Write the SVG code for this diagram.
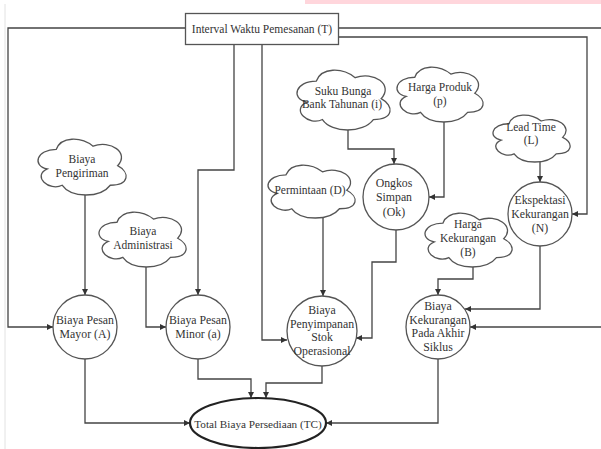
<svg xmlns="http://www.w3.org/2000/svg" xmlns:xlink="http://www.w3.org/1999/xlink" width="601" height="449" viewBox="0 0 601 449">
<style>
.t{font-family:"Liberation Serif","Times New Roman",serif;font-size:11.8px;fill:#333;text-anchor:middle;dominant-baseline:central}
.tb{font-size:11.5px}
.n{fill:#fff;stroke:#555;stroke-width:1.3}
.c{fill:none;stroke:#444;stroke-width:1.3}
.ca{fill:none;stroke:#444;stroke-width:1.3;marker-end:url(#ah)}
.cl{fill:#fff;stroke:#555;stroke-width:1.3;vector-effect:non-scaling-stroke}
</style>
<defs>
<marker id="ah" viewBox="0 0 10 10" refX="10" refY="5" markerWidth="6" markerHeight="6" markerUnits="userSpaceOnUse" orient="auto">
<path d="M0 0 L10 5 L0 10 Z" fill="#333"/>
</marker>
<symbol id="cloud" viewBox="0 0 100 100" preserveAspectRatio="none" overflow="visible">
<path class="cl" d="M 20.67 18.60 C -1.68 18.60 -7.26 47.67 10.61 53.49 C -7.26 66.28 12.85 94.19 27.37 82.56 C 37.43 105.81 70.95 105.81 82.12 82.56 C 104.47 82.56 104.47 59.30 90.50 47.67 C 104.47 24.42 82.12 1.16 62.57 12.79 C 48.60 -4.65 26.26 -4.65 20.67 18.60 Z"/>
</symbol>
</defs>
<rect width="601" height="449" fill="#fff"/>
<rect x="305" y="0" width="296" height="4" fill="#ffd6dc"/>
<line x1="5" y1="4" x2="5" y2="449" stroke="#e2e2e2" stroke-width="1"/>

<g id="connectors">
<path class="ca" d="M186 28 H8 V327 H53"/>
<path class="ca" d="M234 45 V170 H198 V295"/>
<path class="ca" d="M262 45 V340 H287"/>
<path class="c" d="M338 28 H601"/>
<path class="ca" d="M338 37 H587 V214 H572"/>
<path class="ca" d="M85 192 V295"/>
<path class="ca" d="M146 265 V327 H166"/>
<path class="ca" d="M323 216 V296"/>
<path class="ca" d="M348 127 V149 H394 V164"/>
<path class="ca" d="M444 120 V197 H429"/>
<path class="ca" d="M540 160 V182"/>
<path class="ca" d="M396 230 V262 H372 V338 H356"/>
<path class="ca" d="M473 265 V279 H438 V295"/>
<path class="ca" d="M540 246 V309 H465"/>
<path class="ca" d="M601 327 H470"/>
<path class="ca" d="M85 359 V423 H190"/>
<path class="ca" d="M198 359 V379 H251 V398"/>
<path class="ca" d="M322 366 V383 H266 V398"/>
<path class="ca" d="M438 359 V423 H326"/>
</g>

<g id="T">
<rect class="n" x="185.5" y="13.5" width="153" height="31"/>
<text class="t tb" x="262" y="29">Interval Waktu Pemesanan (T)</text>
</g>

<g id="pengiriman">
<use xlink:href="#cloud" href="#cloud" x="38" y="139" width="88" height="56"/>
<text class="t tb" x="82" y="159">Biaya</text>
<text class="t tb" x="82" y="173">Pengiriman</text>
</g>
<g id="administrasi">
<use xlink:href="#cloud" href="#cloud" x="99" y="212" width="87" height="55"/>
<text class="t tb" x="143" y="231">Biaya</text>
<text class="t tb" x="143" y="245">Administrasi</text>
</g>
<g id="permintaan">
<use xlink:href="#cloud" href="#cloud" x="268" y="165" width="87" height="53"/>
<text class="t tb" x="310" y="190">Permintaan (D)</text>
</g>
<g id="sukubunga">
<use xlink:href="#cloud" href="#cloud" x="297" y="70" width="93" height="60"/>
<text class="t tb" x="343" y="91">Suku Bunga</text>
<text class="t tb" x="342" y="104">Bank Tahunan (i)</text>
</g>
<g id="hargaproduk">
<use xlink:href="#cloud" href="#cloud" x="397" y="67" width="86" height="55"/>
<text class="t tb" x="440" y="87">Harga Produk</text>
<text class="t tb" x="440" y="101">(p)</text>
</g>
<g id="leadtime">
<use xlink:href="#cloud" href="#cloud" x="493" y="115" width="77" height="47"/>
<text class="t tb" x="531" y="127">Lead Time</text>
<text class="t tb" x="531" y="140">(L)</text>
</g>
<g id="hargakekurangan">
<use xlink:href="#cloud" href="#cloud" x="425" y="213" width="87" height="54"/>
<text class="t tb" x="468" y="224">Harga</text>
<text class="t tb" x="468" y="238">Kekurangan</text>
<text class="t tb" x="468" y="252">(B)</text>
</g>

<g id="ongkos">
<circle class="n" cx="396" cy="197" r="33"/>
<text class="t" x="394" y="183">Ongkos</text>
<text class="t" x="394" y="197">Simpan</text>
<text class="t" x="394" y="212">(Ok)</text>
</g>
<g id="ekspektasi">
<circle class="n" cx="540" cy="214" r="32"/>
<text class="t" x="540" y="200">Ekspektasi</text>
<text class="t" x="540" y="214">Kekurangan</text>
<text class="t" x="540" y="228">(N)</text>
</g>
<g id="mayor">
<circle class="n" cx="85" cy="327" r="32"/>
<text class="t" x="85" y="320">Biaya Pesan</text>
<text class="t" x="85" y="334">Mayor (A)</text>
</g>
<g id="minor">
<circle class="n" cx="198" cy="327" r="32"/>
<text class="t" x="198" y="320">Biaya Pesan</text>
<text class="t" x="198" y="334">Minor (a)</text>
</g>
<g id="penyimpanan">
<circle class="n" cx="322" cy="331" r="35"/>
<text class="t" x="322" y="310">Biaya</text>
<text class="t" x="322" y="324">Penyimpanan</text>
<text class="t" x="322" y="337">Stok</text>
<text class="t" x="322" y="351">Operasional</text>
</g>
<g id="kekurangan">
<circle class="n" cx="438" cy="327" r="32"/>
<text class="t" x="438" y="306">Biaya</text>
<text class="t" x="438" y="320">Kekurangan</text>
<text class="t" x="438" y="333">Pada Akhir</text>
<text class="t" x="438" y="347">Siklus</text>
</g>
<g id="tc">
<ellipse cx="258" cy="423" rx="68" ry="25" fill="#fff" stroke="#222" stroke-width="2.2"/>
<text class="t" x="258" y="424" style="font-size:11.2px">Total Biaya Persediaan (TC)</text>
</g>
</svg>
